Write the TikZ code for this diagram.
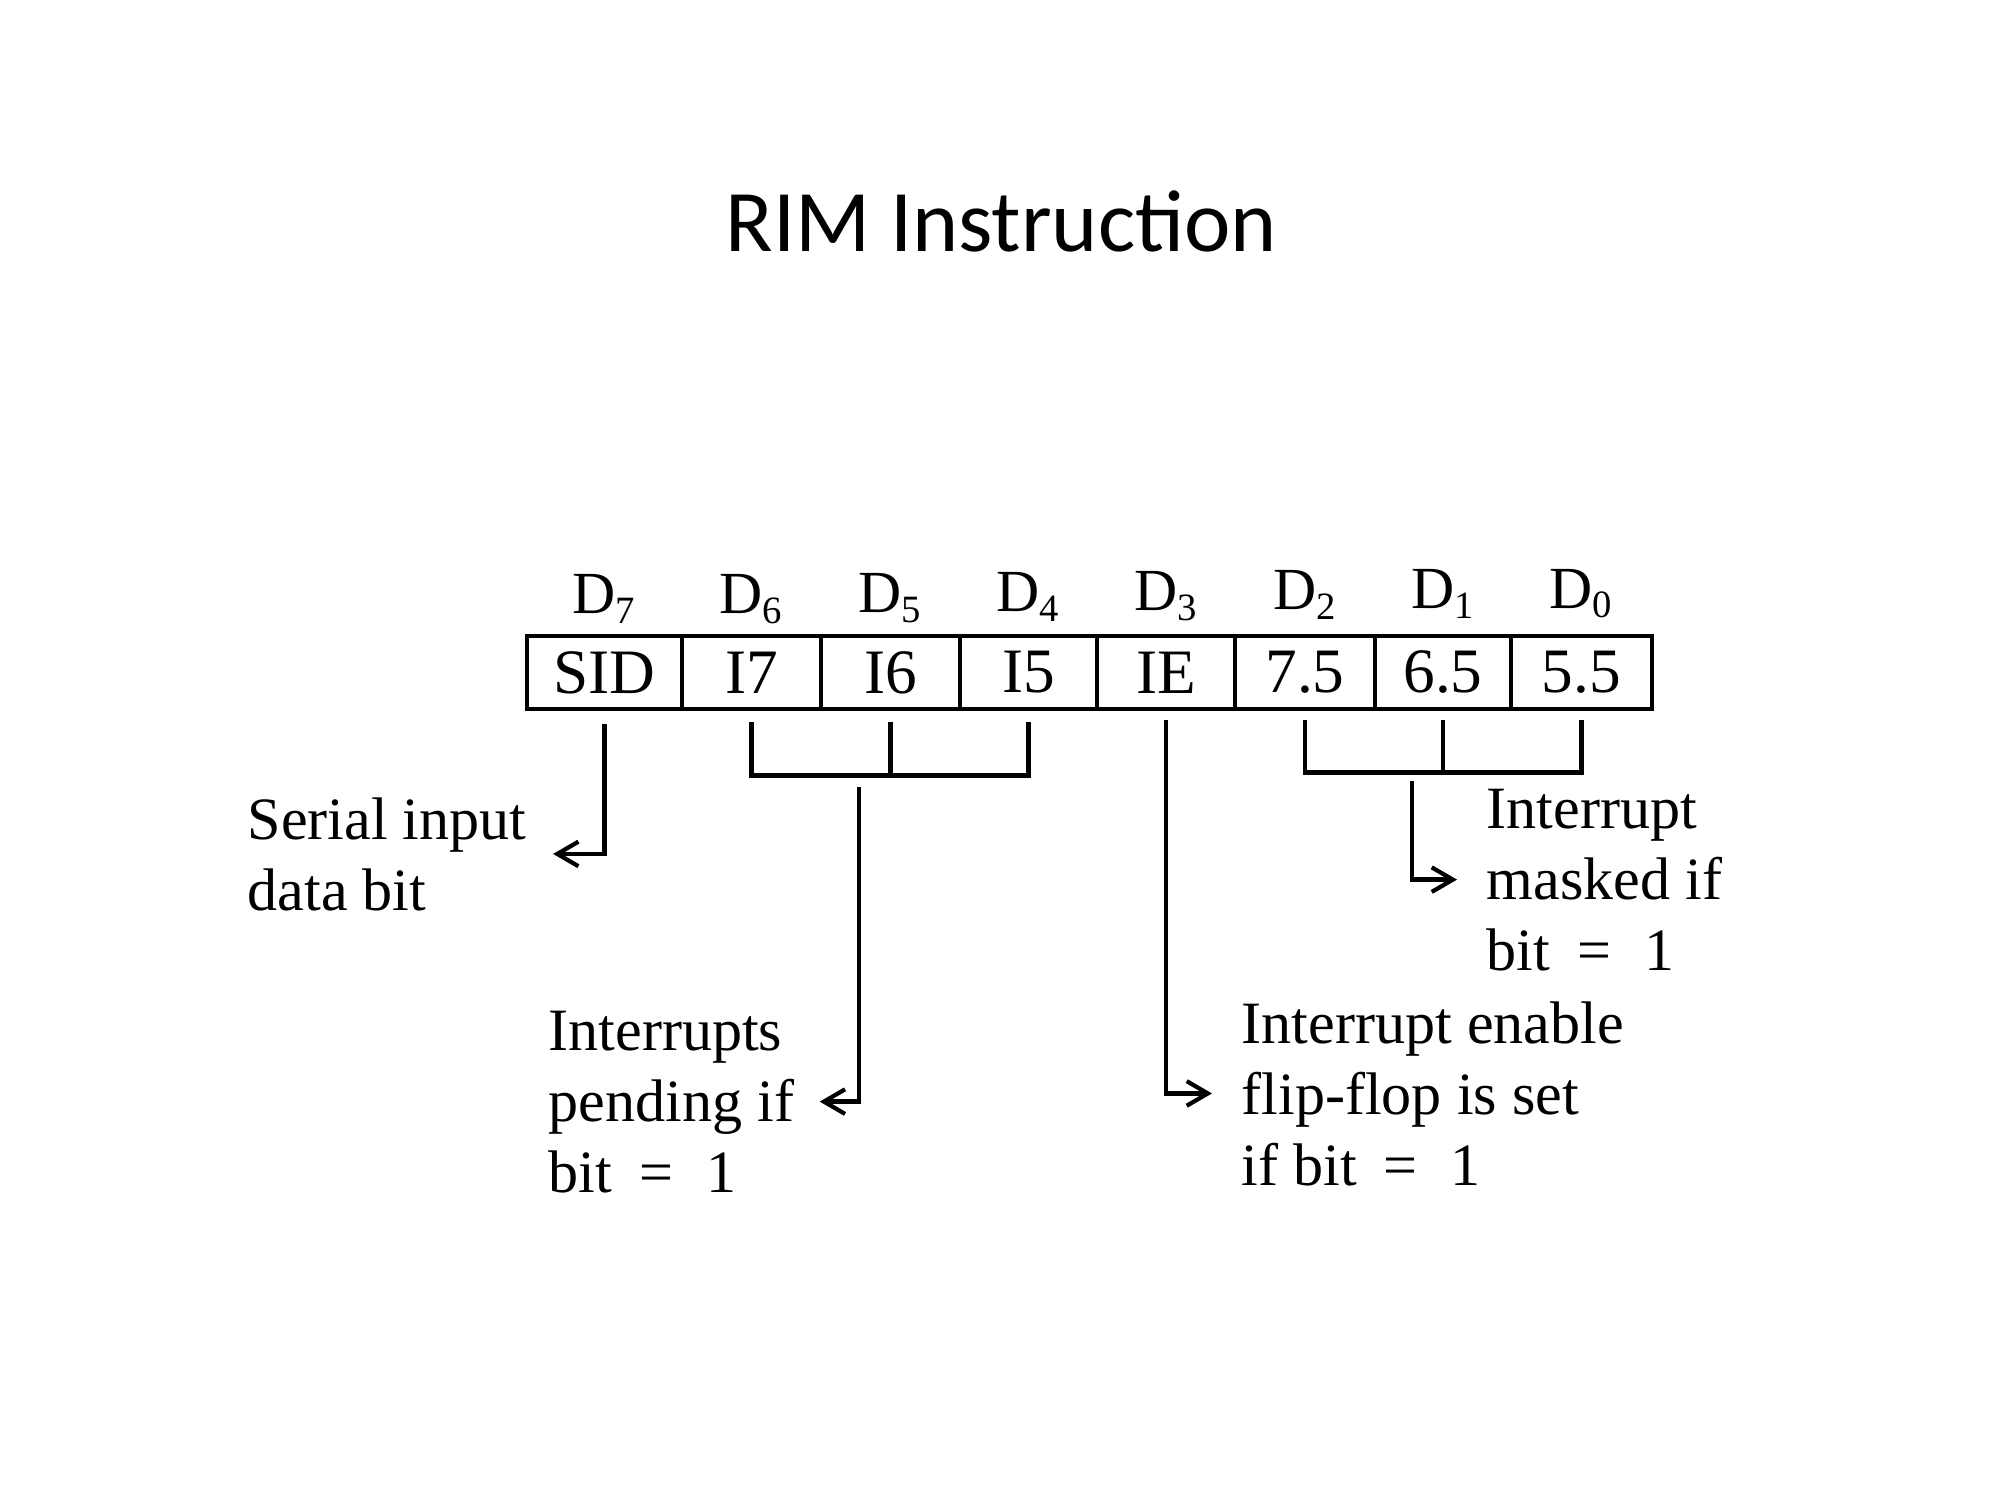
\documentclass[tikz,border=0pt]{standalone}
\usepackage{fontspec}
\setmainfont{Liberation Serif}
\newfontfamily\titlefont{Carlito}
\usetikzlibrary{arrows.meta}
\newcommand\dsub[1]{\raisebox{-2.6pt}{\fontsize{11}{11}\selectfont #1}}
\newcommand\eqsign{\hspace{0.45em}=\hspace{0.55em}}
\begin{document}
\begin{tikzpicture}[x=0.1mm,y=-0.1mm,
  cell/.style={draw, line width=1.4pt, minimum height=7.3mm, inner sep=0pt, font=\fontsize{18}{18}\selectfont},
  dlab/.style={anchor=base, inner sep=0pt, font=\fontsize{17}{17}\selectfont},
  lab/.style={align=left, inner sep=0pt, anchor=base west, font=\fontsize{17.1}{20.2}\selectfont},
  wire/.style={line width=1.25pt},
  arr/.style={wire, -{Straight Barb[length=6pt,width=7pt,line width=1.2pt]}}
]
\useasboundingbox (0,0) rectangle (2000,1500);
\node[font=\titlefont\fontsize{25}{25}\selectfont, anchor=base, inner sep=0pt] (title) at (1001,252) {RIM Instruction};

% register cells
\node[cell, minimum width=15.5mm] (sid) at (604.5,672.5) {SID};
\node[cell, minimum width=13.9mm] (i7) at (751.5,672.5) {I7};
\node[cell, minimum width=13.9mm] (i6) at (890.5,672.5) {I6};
\node[cell, minimum width=13.7mm] (i5) at (1028.5,672.5) {I5};
\node[cell, minimum width=13.8mm] (ie) at (1166,672.5) {IE};
\node[cell, minimum width=14.0mm] (m75) at (1305,672.5) {7.5};
\node[cell, minimum width=13.6mm] (m65) at (1443,672.5) {6.5};
\node[cell, minimum width=14.1mm] (m55) at (1581.5,672.5) {5.5};

% bit labels
\node[dlab] (d7) at (604,614) {D\dsub{7}};
\node[dlab] (d6) at (751,614) {D\dsub{6}};
\node[dlab] (d5) at (890,613) {D\dsub{5}};
\node[dlab] (d4) at (1028,612) {D\dsub{4}};
\node[dlab] (d3) at (1166,611) {D\dsub{3}};
\node[dlab] (d2) at (1305,610) {D\dsub{2}};
\node[dlab] (d1) at (1443,609) {D\dsub{1}};
\node[dlab] (d0) at (1581,608) {D\dsub{0}};

% descriptions (base = baseline of the last line)
\node[lab] (serial) at (247,910) {Serial input\\data bit};
\node[lab] (pend) at (548,1192) {Interrupts\\pending if\\bit\eqsign1};
\node[lab] (ien) at (1241,1185) {Interrupt enable\\flip-flop is set\\if bit\eqsign1};
\node[lab] (mask) at (1486,970) {Interrupt\\masked if\\bit\eqsign1};

% brackets
\draw[wire] ([yshift=-1.1mm]i7.south) -- ++(0,53) -| ([yshift=-1.1mm]i5.south);
\draw[wire] ([yshift=-1.1mm]i6.south) -- ++(0,53);
\draw[wire] ([yshift=-0.9mm]m75.south) -- ++(0,52) -| ([yshift=-0.9mm]m55.south);
\draw[wire] ([yshift=-0.9mm]m65.south) -- ++(0,52);

\coordinate (istem) at (859,787);
\coordinate (mstem) at (1412,781);

% connectors
\draw[arr] ([yshift=-1.3mm]sid.south) |- ([xshift=2.6mm]serial.east);
\draw[arr] (istem) |- ([xshift=2.5mm]pend.east);
\draw[arr] ([yshift=-0.9mm]ie.south) |- ([xshift=-2.9mm]ien.west);
\draw[arr] (mstem) |- ([xshift=-2.9mm]mask.west);
\end{tikzpicture}
\end{document}
